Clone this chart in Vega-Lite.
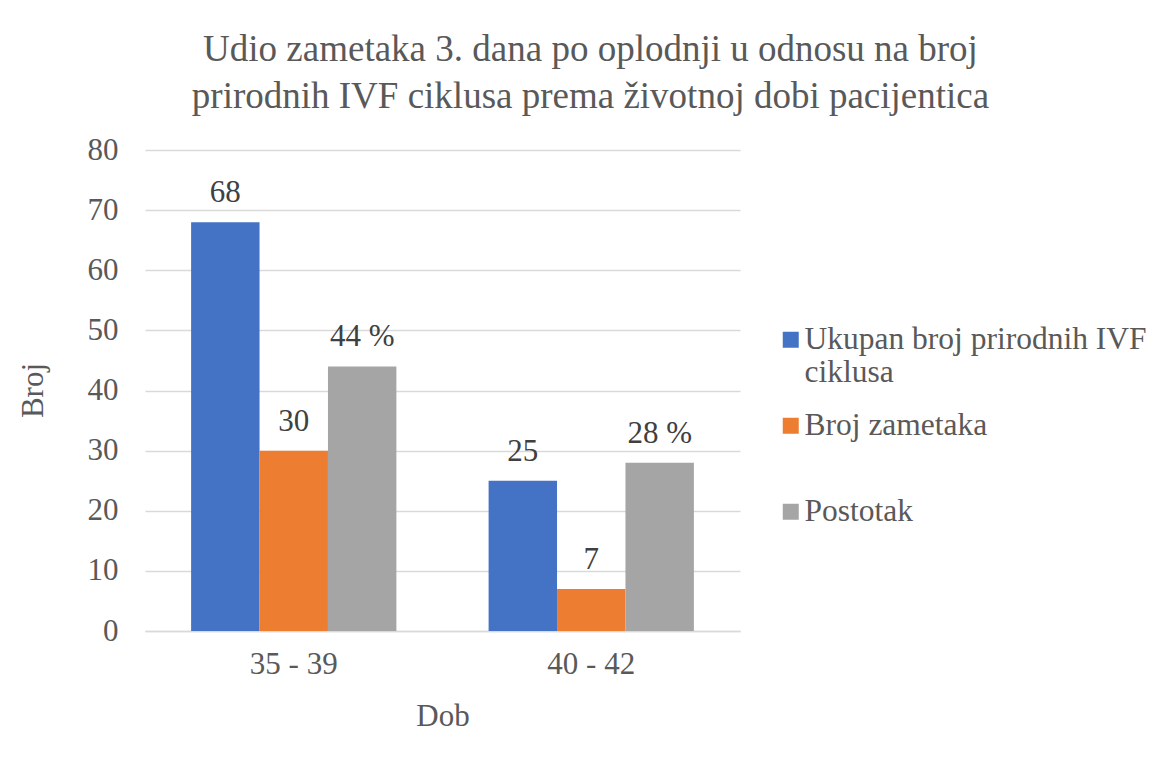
{
  "$schema": "https://vega.github.io/schema/vega-lite/v6.json",
  "width": 595,
  "height": 481,
  "autosize": {"type": "none"},
  "padding": {"left": 145, "top": 150, "right": 431, "bottom": 127},
  "background": "white",
  "title": {
    "text": ["Udio zametaka 3. dana po oplodnji u odnosu na broj", "prirodnih IVF ciklusa prema životnoj dobi pacijentica"],
    "font": "Liberation Serif",
    "fontSize": 37,
    "fontWeight": "normal",
    "color": "#595959",
    "anchor": "middle",
    "dx": 148,
    "offset": 18,
    "lineHeight": 47
  },
  "config": {
    "view": {"stroke": null},
    "font": "Liberation Serif"
  },
  "data": {
    "values": [
      {"dob": "35 - 39", "serija": "Ukupan broj prirodnih IVF ciklusa", "vrijednost": 68, "oznaka": "68"},
      {"dob": "35 - 39", "serija": "Broj zametaka", "vrijednost": 30, "oznaka": "30"},
      {"dob": "35 - 39", "serija": "Postotak", "vrijednost": 44, "oznaka": "44 %"},
      {"dob": "40 - 42", "serija": "Ukupan broj prirodnih IVF ciklusa", "vrijednost": 25, "oznaka": "25"},
      {"dob": "40 - 42", "serija": "Broj zametaka", "vrijednost": 7, "oznaka": "7"},
      {"dob": "40 - 42", "serija": "Postotak", "vrijednost": 28, "oznaka": "28 %"}
    ]
  },
  "encoding": {
    "x": {
      "field": "dob", "type": "nominal",
      "scale": {"paddingInner": 0.31, "paddingOuter": 0.155},
      "axis": {
        "title": "Dob", "labelAngle": 0, "labelFontSize": 31, "labelColor": "#595959",
        "labelFont": "Liberation Serif",
        "labelPadding": 18, "ticks": false, "domainColor": "#D9D9D9", "domainWidth": 1.5,
        "titleFont": "Liberation Serif",
        "titleFontSize": 31, "titleFontWeight": "normal", "titleColor": "#595959",
        "titleY": 70, "titleBaseline": "top", "grid": false
      }
    },
    "xOffset": {"field": "serija", "type": "nominal", "sort": ["Ukupan broj prirodnih IVF ciklusa", "Broj zametaka", "Postotak"], "scale": {"paddingInner": 0, "paddingOuter": 0}},
    "y": {
      "field": "vrijednost", "type": "quantitative",
      "scale": {"domain": [0, 80], "nice": false},
      "axis": {
        "title": "Broj", "values": [0, 10, 20, 30, 40, 50, 60, 70, 80], "labelOverlap": false,
        "labelFont": "Liberation Serif",
        "labelFontSize": 31, "labelColor": "#595959", "labelPadding": 27,
        "ticks": false, "domain": false, "gridColor": "#D9D9D9", "gridWidth": 1.5,
        "titleFont": "Liberation Serif",
        "titleFontSize": 31, "titleFontWeight": "normal", "titleColor": "#595959",
        "titleX": -112, "titleY": 240, "titleAngle": -90, "titleBaseline": "middle", "titleAlign": "center"
      }
    }
  },
  "layer": [
    {
      "mark": {"type": "bar"},
      "encoding": {
        "color": {
          "field": "serija", "type": "nominal",
          "sort": ["Ukupan broj prirodnih IVF ciklusa", "Broj zametaka", "Postotak"],
          "scale": {"domain": ["Ukupan broj prirodnih IVF ciklusa", "Broj zametaka", "Postotak"], "range": ["#4472C4", "#ED7D31", "#A5A5A5"]},
          "legend": {
            "title": null, "orient": "none", "legendX": 630, "legendY": 174,
            "symbolType": "square", "symbolSize": 256, "symbolStrokeWidth": 0,
            "labelFont": "Liberation Serif",
            "labelFontSize": 31.5, "labelColor": "#595959", "labelLimit": 400,
            "labelLineHeight": 35,
            "labelExpr": "datum.label == 'Ukupan broj prirodnih IVF ciklusa' ? ['Ukupan broj prirodnih IVF', 'ciklusa'] : [datum.label, ' ']",
            "rowPadding": 20, "labelOffset": -2
          }
        }
      }
    },
    {
      "mark": {"type": "text", "baseline": "alphabetic", "dy": -20, "fontSize": 31, "color": "#404040", "font": "Liberation Serif"},
      "encoding": {"text": {"field": "oznaka"}}
    }
  ]
}
